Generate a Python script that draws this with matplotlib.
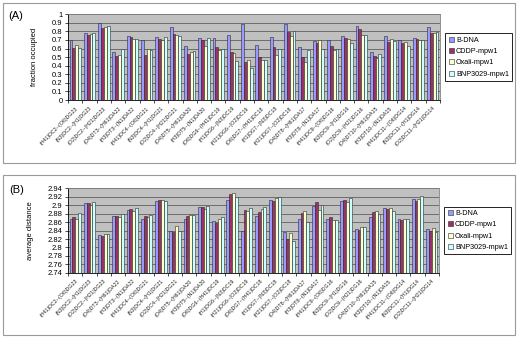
import matplotlib.pyplot as plt
import numpy as np
from matplotlib.patches import Rectangle

plt.rcParams['font.family'] = ['Liberation Sans', 'DejaVu Sans']

pairs = [
    '(H41)DC2--(O6)DG23', '(N3)DC2--(H1)DG23', '(O2)DC2--(H21)DG23',
    '(O4)DT3--(H61)DA22', '(H3)DT3--(N1)DA22',
    '(H41)DC4--(O6)DG21', '(N3)DC4--(H1)DG21', '(O2)DC4--(H21)DG21',
    '(O4)DT5--(H61)DA20', '(H3)DT5--(N1)DA20',
    '(O6)DG6--(H41)DC19', '(H1)DG6--(N3)DC19', '(H21)DG6--(O2)DC19',
    '(O6)DG7--(H41)DC18', '(H1)DG7--(N3)DC18', '(H21)DG7--(O2)DC18',
    '(O4)DT8--(H61)DA17', '(H3)DT8--(N1)DA17',
    '(H41)DC9--(O6)DG16', '(N3)DC9--(H1)DG16', '(O2)DC9--(H21)DG16',
    '(O4)DT10--(H61)DA15', '(H3)DT10--(N1)DA15',
    '(H41)DC11--(O6)DG14', '(N3)DC11--(H1)DG14', '(O2)DC11--(H21)DG14',
]
series = ['B-DNA', 'CDDP-mpw1', 'Oxali-mpw1', 'BNP3029-mpw1']
colors = ['#9999FF', '#993366', '#FFFFCC', '#CCFFFF']

# (A) fraction occupied
frac_bdna = [0.70, 0.78, 0.895, 0.56, 0.75, 0.70, 0.73, 0.85, 0.63, 0.72, 0.72, 0.755, 0.88,
             0.64, 0.735, 0.88, 0.615, 0.69, 0.705, 0.75, 0.86, 0.565, 0.745, 0.705, 0.725, 0.85]
frac_cddp = [0.61, 0.76, 0.84, 0.51, 0.73, 0.53, 0.71, 0.77, 0.54, 0.70, 0.62, 0.56, 0.445,
             0.505, 0.615, 0.79, 0.505, 0.67, 0.635, 0.72, 0.83, 0.51, 0.68, 0.67, 0.71, 0.775]
frac_oxali = [0.64, 0.77, 0.85, 0.52, 0.71, 0.595, 0.70, 0.76, 0.56, 0.635, 0.58, 0.545, 0.47,
              0.47, 0.53, 0.745, 0.44, 0.705, 0.58, 0.71, 0.76, 0.485, 0.715, 0.68, 0.705, 0.775]
frac_bnp = [0.61, 0.78, 0.86, 0.60, 0.71, 0.58, 0.73, 0.75, 0.57, 0.72, 0.60, 0.45, 0.37,
            0.47, 0.595, 0.80, 0.58, 0.60, 0.60, 0.67, 0.76, 0.54, 0.69, 0.63, 0.695, 0.79]

# (B) average distance
dist_bdna = [2.868, 2.905, 2.829, 2.874, 2.889, 2.868, 2.909, 2.840, 2.868, 2.895, 2.862, 2.913, 2.838,
             2.875, 2.913, 2.837, 2.866, 2.897, 2.868, 2.910, 2.844, 2.872, 2.893, 2.868, 2.915, 2.844]
dist_cddp = [2.872, 2.904, 2.826, 2.874, 2.891, 2.874, 2.912, 2.836, 2.874, 2.895, 2.858, 2.925, 2.889,
             2.884, 2.910, 2.820, 2.882, 2.907, 2.872, 2.911, 2.841, 2.883, 2.891, 2.865, 2.910, 2.840]
dist_oxali = [2.868, 2.900, 2.831, 2.871, 2.886, 2.871, 2.913, 2.850, 2.876, 2.891, 2.868, 2.929, 2.887,
              2.891, 2.916, 2.833, 2.885, 2.889, 2.864, 2.907, 2.848, 2.885, 2.893, 2.867, 2.915, 2.846]
dist_bnp = [2.881, 2.906, 2.831, 2.878, 2.893, 2.877, 2.910, 2.840, 2.876, 2.898, 2.872, 2.920, 2.892,
            2.895, 2.920, 2.815, 2.860, 2.901, 2.864, 2.917, 2.848, 2.880, 2.887, 2.867, 2.922, 2.837]

fig = plt.figure(figsize=(5.2, 3.37), dpi=100)

# outer panel frames
for y0 in (0.516, 0.006):
    fig.add_artist(Rectangle((0.006, y0), 0.985, 0.474, transform=fig.transFigure,
                             fill=False, edgecolor='#9a9a9a', linewidth=0.8))


def draw(ax, data, base, top, step, ylabel, tag):
    x = np.arange(len(pairs))
    for i, vals in enumerate(data):
        vals = np.array(vals)
        ax.bar(x + (i - 1.5) * 0.2, vals - base, bottom=base, width=0.2,
               color=colors[i], edgecolor='#2a2a2a', linewidth=0.4, label=series[i], zorder=3)
    ax.set_facecolor('#C0C0C0')
    ax.set_xlim(-0.5, len(pairs) - 0.5)
    ax.set_ylim(base, top)
    ticks = np.round(np.arange(base, top + step / 2, step), 3)
    ax.set_yticks(ticks)
    ax.set_yticklabels(['{:g}'.format(t) for t in ticks])
    ax.yaxis.grid(True, color='#606060', linewidth=0.6)
    ax.set_axisbelow(True)
    ax.set_xticks(x)
    ax.set_xticklabels(pairs, rotation=45, ha='right', rotation_mode='anchor', fontsize=3.8,
                       color='#222222')
    ax.set_xticks(np.arange(-0.5, len(pairs)), minor=True)
    ax.tick_params(axis='x', which='major', length=0, pad=4)
    ax.tick_params(axis='x', which='minor', length=2.5, width=0.5, direction='out')
    ax.tick_params(axis='y', length=2.5, width=0.5, labelsize=5.5, pad=1.5)
    for s in ('top', 'right'):
        ax.spines[s].set_color('#808080')
        ax.spines[s].set_linewidth(0.6)
    for s in ('left', 'bottom'):
        ax.spines[s].set_color('#000000')
        ax.spines[s].set_linewidth(0.6)
    ax.set_ylabel(ylabel, fontsize=5.5, labelpad=10)
    leg = ax.legend(loc='center left', bbox_to_anchor=(1.015, 0.5), fontsize=5.2, frameon=True,
                    fancybox=False, edgecolor='black', framealpha=1, handlelength=0.7,
                    handleheight=0.7, handletextpad=0.3, labelspacing=0.6, borderpad=0.45,
                    borderaxespad=0)
    leg.get_frame().set_linewidth(0.6)
    ax.text(-0.16, 0.98, tag, transform=ax.transAxes, fontsize=8, va='center', ha='left')


ax1 = fig.add_axes([0.131, 0.703, 0.715, 0.255])
draw(ax1, [frac_bdna, frac_cddp, frac_oxali, frac_bnp], 0, 1, 0.1, 'fraction occupied', '(A)')

ax2 = fig.add_axes([0.131, 0.190, 0.713, 0.252])
draw(ax2, [dist_bdna, dist_cddp, dist_oxali, dist_bnp], 2.74, 2.94, 0.02, 'average distance', '(B)')

fig.savefig('out.png', dpi=100)
